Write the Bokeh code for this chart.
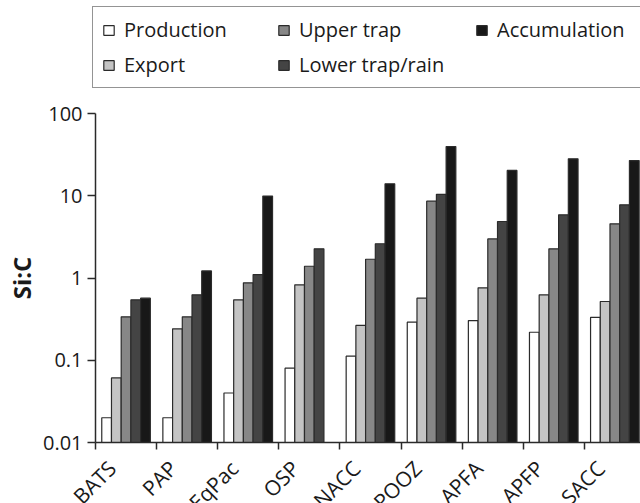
import numpy as np
from bokeh.plotting import figure
from bokeh.models import Range1d, FixedTicker, Legend, LegendItem, ColumnDataSource
from bokeh.core.properties import value
from bokeh.embed import file_html
from bokeh.resources import INLINE

sites = ["BATS", "PAP", "EqPac", "OSP", "NACC", "POOZ", "APFA", "APFP", "SACC"]
series_names = ["Production", "Export", "Upper trap", "Lower trap/rain", "Accumulation"]
production = [0.020, 0.020, 0.040, 0.080, 0.112, 0.290, 0.304, 0.219, 0.333]
export = [0.061, 0.241, 0.543, 0.826, 0.265, 0.569, 0.760, 0.625, 0.518]
upper_trap = [0.337, 0.337, 0.873, 1.39, 1.69, 8.59, 2.99, 2.26, 4.56]
lower_trap = [0.543, 0.625, 1.10, 2.26, 2.61, 10.4, 4.86, 5.87, 7.76]
accumulation = [0.569, 1.22, 9.9, float("nan"), 14.0, 39.7, 20.3, 28.1, 26.8]
y_ticks = [0.01, 0.1, 1, 10, 100]
y_tick_labels = ["0.01", "0.1", "1", "10", "100"]
y_title = "Si:C"

series = [production, export, upper_trap, lower_trap, accumulation]
fills = ["#ffffff", "#c4c4c4", "#878787", "#444444", "#181818"]

FONT = "Open Sans"
TXT = "#1a1a1a"
AX = "#2a2a2a"

# page layout in pixels (the frame fills the whole canvas)
W, H = 640, 503
AXIS_X = 95        # where the y axis sits
TOP_PAD = 113      # from the top edge down to the 100 tick
BOT_PAD = 61       # from the 0.01 tick down to the bottom edge
PX_DEC = 82.25     # pixels per decade
GROUP_PX = 61.1    # pixels per site group

n = len(sites)
ymin, ymax = y_ticks[0], y_ticks[-1]
y_lo = ymin * 10 ** (-BOT_PAD / PX_DEC)
y_hi = ymax * 10 ** (TOP_PAD / PX_DEC)
x_lo = -AXIS_X / GROUP_PX
x_hi = (W - AXIS_X) / GROUP_PX

p = figure(width=W, height=H,
           x_range=Range1d(x_lo, x_hi), y_range=Range1d(y_lo, y_hi),
           y_axis_type="log", output_backend="svg", toolbar_location=None,
           min_border_left=0, min_border_right=0, min_border_top=0,
           min_border_bottom=0)

centers = np.arange(n) + 0.5
bw = 0.159
renderers = []
for k, (vals, col) in enumerate(zip(series, fills)):
    src = ColumnDataSource(dict(x=centers + (k - 2) * bw, top=vals,
                                bottom=[ymin] * n))
    r = p.vbar(x="x", top="top", bottom="bottom", width=bw, source=src,
               fill_color=col, line_color="#2b2b2b", line_width=1.2)
    renderers.append(r)

p.grid.visible = False
p.outline_line_color = None

# x axis: drawn at y = 0.01, ticks at the group boundaries
xa = p.xaxis[0]
xa.fixed_location = ymin
xa.bounds = (0, x_hi)
xa.ticker = FixedTicker(ticks=[], minor_ticks=list(range(n)))
xa.major_tick_out = 0
xa.major_tick_in = 0
xa.major_label_text_font_size = "0px"
xa.major_label_standoff = 0
xa.minor_tick_line_color = AX
xa.minor_tick_line_width = 1.5
xa.minor_tick_out = 7
xa.minor_tick_in = 0
xa.axis_line_color = AX
xa.axis_line_width = 1.5

# y axis: drawn at x = 0, from 0.01 to 100
ya = p.yaxis[0]
ya.fixed_location = 0
ya.bounds = (ymin, ymax)
ya.ticker = FixedTicker(ticks=[], minor_ticks=y_ticks)
ya.major_tick_out = 0
ya.major_tick_in = 0
ya.major_label_text_font_size = "0px"
ya.major_label_standoff = 0
ya.minor_tick_line_color = AX
ya.minor_tick_line_width = 1.5
ya.minor_tick_out = 8
ya.minor_tick_in = 0
ya.axis_line_color = AX
ya.axis_line_width = 1.5

# y tick labels
p.text(x=[0] * len(y_ticks), y=y_ticks, text=y_tick_labels,
       text_align="right", text_baseline="middle", x_offset=-13,
       text_font=value(FONT), text_font_size="20px", text_color=TXT)

# y title, centred on the axis span
p.text(x=[0], y=[np.sqrt(ymin * ymax)], text=[y_title], angle=np.pi / 2,
       text_align="center", text_baseline="middle", x_offset=-74,
       text_font=value(FONT), text_font_size="24px", text_font_style="bold",
       text_color=TXT)

# category labels
p.text(x=centers, y=[ymin] * n, text=sites, angle=np.pi / 4,
       text_align="right", text_baseline="middle",
       x_offset=-14, y_offset=22,
       text_font=value(FONT), text_font_size="21px", text_color=TXT)


def make_legend(idx, x, y, boxed, label_width):
    lg = Legend(items=[LegendItem(label=series_names[i], renderers=[renderers[i]]) for i in idx],
                location=(x, y), orientation="vertical")
    lg.label_text_font = FONT
    lg.label_text_font_size = "20px"
    lg.label_text_color = TXT
    lg.label_width = label_width
    lg.glyph_width = 13
    lg.glyph_height = 12
    lg.label_standoff = 9
    lg.spacing = 8
    lg.padding = 9
    lg.margin = 0
    if boxed:
        lg.border_line_color = AX
        lg.border_line_width = 1.2
        lg.background_fill_color = "white"
        lg.background_fill_alpha = 1
    else:
        lg.border_line_color = None
        lg.background_fill_alpha = 0
    p.add_layout(lg)
    return lg


LEG_BOTTOM = H - 88          # legend box bottom, from the canvas bottom
ROW_STEP = 35                # one legend row
make_legend([0, 1], 92, LEG_BOTTOM, True, 560)
make_legend([2, 3], 277, LEG_BOTTOM + 10, False, 20)
make_legend([4], 475, LEG_BOTTOM + ROW_STEP + 10, False, 20)

open("out.html", "w").write(file_html(p, INLINE))
